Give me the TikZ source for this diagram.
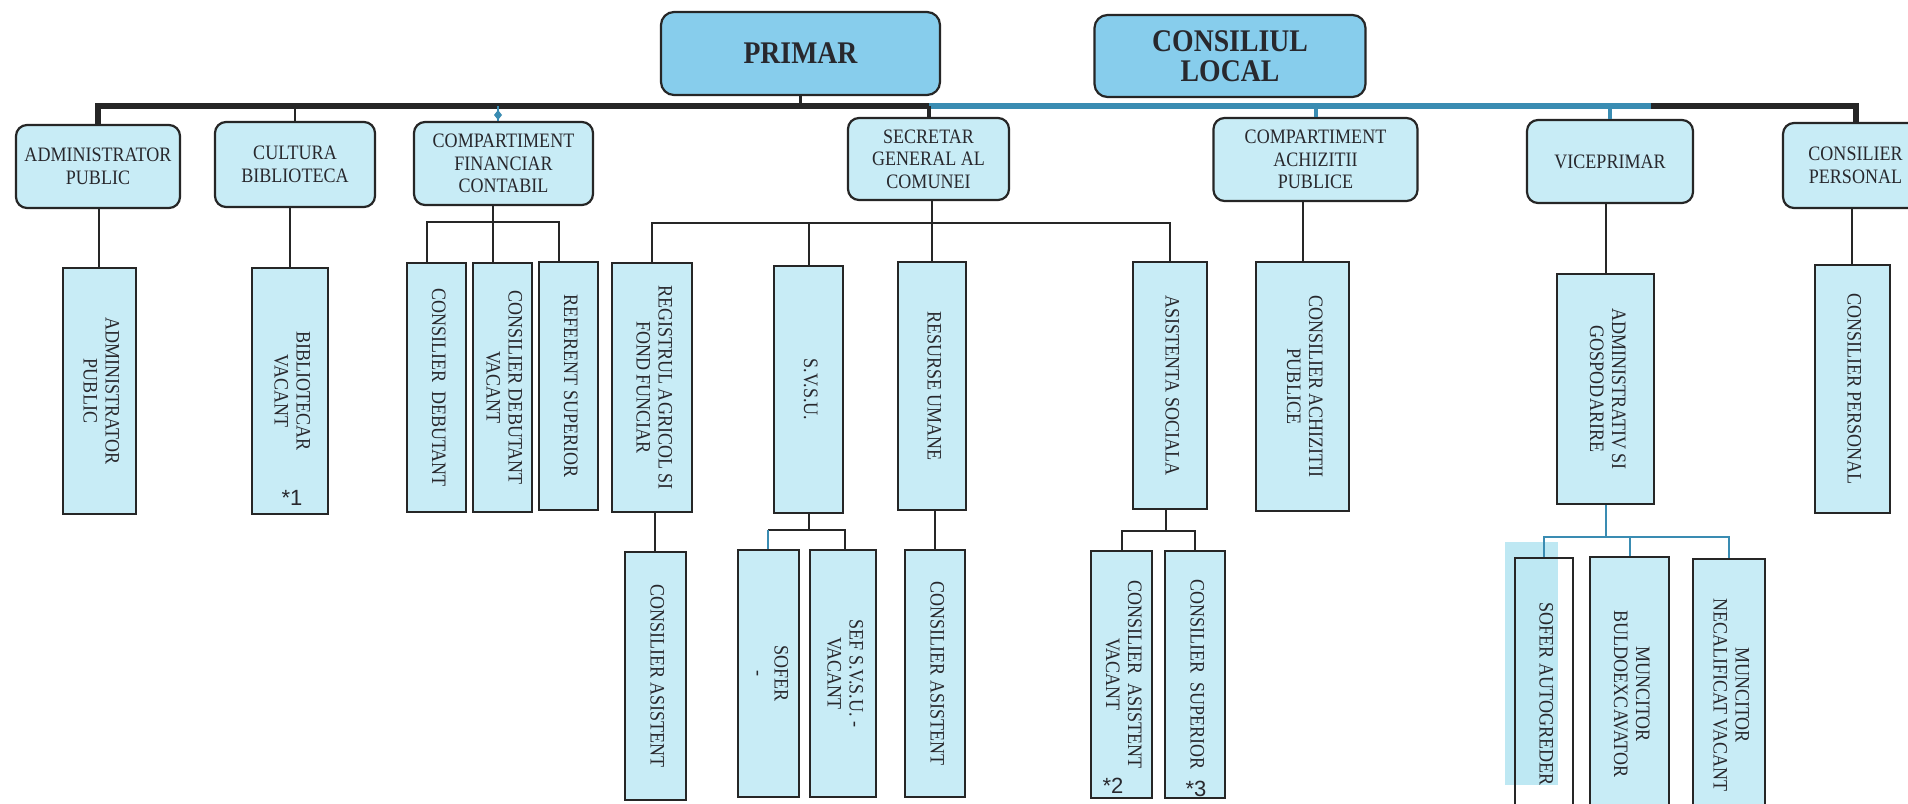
\documentclass[tikz,border=0pt]{standalone}
\usepackage{fontspec}
\usepackage{graphicx}
\setmainfont{Liberation Serif}[FakeStretch=0.88]
\newfontfamily\arialf{Liberation Sans}
\definecolor{topblue}{RGB}{135,205,236}
\definecolor{lightblue}{RGB}{200,236,246}
\definecolor{overblue}{RGB}{190,232,243}
\definecolor{busblue}{RGB}{58,140,178}
\definecolor{linec}{RGB}{38,38,38}
\definecolor{textc}{RGB}{40,40,45}
\newcommand{\vtxt}[1]{\rotatebox{-90}{\begin{tabular}{@{}c@{}}#1\end{tabular}}}
\tikzset{
  topbox/.style={draw=linec, line width=2.2pt, rounded corners=13pt, fill=topblue, inner sep=0pt, align=center, text=textc, font=\bfseries\fontsize{31.5}{30}\selectfont},
  midbox/.style={draw=linec, line width=2.2pt, rounded corners=11pt, fill=lightblue, inner sep=0pt, align=center, text=textc, font=\fontsize{20.5}{22.5}\selectfont},
  tallbox/.style={draw=linec, line width=2pt, fill=lightblue, inner sep=0pt, text=textc, font=\fontsize{20.5}{22}\selectfont},
  conn/.style={draw=linec, line width=2pt},
  connb/.style={draw=busblue, line width=2pt},
  busd/.style={draw=linec, line width=6pt, line join=miter},
  busb/.style={draw=busblue, line width=6pt},
  starlbl/.style={font=\arialf\fontsize{22}{22}\selectfont, text=textc, inner sep=0pt},
}
\begin{document}
\begin{tikzpicture}[x=1pt,y=-1pt]
\useasboundingbox (0,0) rectangle (1908,803);
\clip (0,0) rectangle (1908,803);
\fill[white] (0,0) rectangle (1908,803);

% top level
\node[topbox, minimum width=279pt, minimum height=83pt] (primar) at (800.5,53.5) {PRIMAR};
\node[topbox, minimum width=271pt, minimum height=82pt] (consil) at (1230,56) {CONSILIUL\\LOCAL};

% second row
\node[midbox, minimum width=164pt, minimum height=83pt] (adm) at (98,166.5) {ADMINISTRATOR\\PUBLIC};
\node[midbox, minimum width=160pt, minimum height=85pt] (cult) at (295,164.5) {CULTURA\\BIBLIOTECA};
\node[midbox, minimum width=179pt, minimum height=83pt] (fin) at (503.5,163.5) {COMPARTIMENT\\FINANCIAR\\CONTABIL};
\node[midbox, minimum width=161pt, minimum height=82pt] (sec) at (928.5,159) {SECRETAR\\GENERAL AL\\COMUNEI};
\node[midbox, minimum width=204pt, minimum height=83pt] (achz) at (1315.5,159.5) {COMPARTIMENT\\ACHIZITII\\PUBLICE};
\node[midbox, minimum width=166pt, minimum height=83pt] (vice) at (1610,161.5) {VICEPRIMAR};
\node[midbox, minimum width=145pt, minimum height=85pt] (cpers) at (1855.5,165.5) {CONSILIER\\PERSONAL};

% third row
\node[tallbox, minimum width=73pt, minimum height=246pt] (admp) at (99,391) {\vtxt{ADMINISTRATOR\\PUBLIC}};
\node[tallbox, minimum width=76pt, minimum height=246pt] (bib) at (290,391) {\vtxt{BIBLIOTECAR\\VACANT}};
\node[tallbox, minimum width=59pt, minimum height=249pt] (cdeb) at (436.5,387.5) {\vtxt{CONSILIER\ \ DEBUTANT}};
\node[tallbox, minimum width=59pt, minimum height=249pt] (cdebv) at (502,387.5) {\vtxt{CONSILIER DEBUTANT\\VACANT}};
\node[tallbox, minimum width=59pt, minimum height=248pt] (refs) at (568.5,386) {\vtxt{REFERENT SUPERIOR}};
\node[tallbox, minimum width=80pt, minimum height=249pt] (reg) at (652,387.5) {\vtxt{REGISTRUL AGRICOL SI\\FOND FUNCIAR}};
\node[tallbox, minimum width=69pt, minimum height=247pt] (svsu) at (808.5,389.5) {\vtxt{S.V.S.U.}};
\node[tallbox, minimum width=68pt, minimum height=248pt] (rum) at (932,386) {\vtxt{RESURSE UMANE}};
\node[tallbox, minimum width=74pt, minimum height=247pt] (asis) at (1170,385.5) {\vtxt{ASISTENTA SOCIALA}};
\node[tallbox, minimum width=93pt, minimum height=249pt] (cach) at (1302.5,386.5) {\vtxt{CONSILIER ACHIZITII\\PUBLICE}};
\node[tallbox, minimum width=97pt, minimum height=230pt] (adg) at (1605.5,389) {\vtxt{ADMINISTRATIV SI\\GOSPODARIRE}};
\node[tallbox, minimum width=75pt, minimum height=248pt] (cpl) at (1852,389) {\vtxt{CONSILIER PERSONAL}};

% fourth row
\node[tallbox, minimum width=61pt, minimum height=248pt] (cas1) at (655,676) {\vtxt{CONSILIER ASISTENT}};
\node[tallbox, minimum width=61pt, minimum height=247pt] (sofer) at (768,673.5) {\vtxt{SOFER\\-}};
\node[tallbox, minimum width=66pt, minimum height=247pt] (sef) at (843,673.5) {\vtxt{SEF S.V.S.U. -\\VACANT}};
\node[tallbox, minimum width=60pt, minimum height=247pt] (cas2) at (935,673.5) {\vtxt{CONSILIER ASISTENT}};
\node[tallbox, minimum width=61pt, minimum height=247pt] (casv) at (1121.5,674.5) {\raisebox{16pt}{\vtxt{CONSILIER\ \ ASISTENT\\VACANT}}};
\node[tallbox, minimum width=60pt, minimum height=247pt] (csup) at (1195,674.5) {\vtxt{CONSILIER\ \ SUPERIOR}};

\fill[overblue] (1505,542) rectangle (1558,785);
\node[tallbox, fill=none, minimum width=58pt, minimum height=272pt] (sag) at (1544,694) {\raisebox{31pt}{\vtxt{SOFER AUTOGREDER}}};
\node[tallbox, minimum width=79pt, minimum height=274pt] (mbul) at (1629.5,694) {\raisebox{16pt}{\vtxt{MUNCITOR\\BULDOEXCAVATOR}}};
\node[tallbox, minimum width=72pt, minimum height=272pt] (mnec) at (1729,695) {\raisebox{10pt}{\vtxt{MUNCITOR\\NECALIFICAT VACANT}}};

% footnote marks
\node[starlbl] (s1) at (292,498) {*1};
\node[starlbl] (s2) at (1113,786) {*2};
\node[starlbl] (s3) at (1196,789) {*3};

% bus
\coordinate (busA) at (929,106);
\coordinate (busB) at (1651,106);
\draw[busd] (adm.north) |- (busA);
\draw[busb] (busA) -- (busB);
\draw[busd] (busB) -| (cpers.north);

% connectors top row
\draw[conn, line width=3pt] (primar.south) -- (primar.south |- busA);
\draw[conn] (cult.north) -- (cult.north |- busA);
\draw[connb] ([xshift=-5.5pt]fin.north) -- ([xshift=-5.5pt]fin.north |- busA);
\fill[busblue] (498,110) -- (502,115) -- (498,120) -- (494,115) -- cycle;
\draw[conn, line width=4pt] (sec.north) -- (sec.north |- busA);
\draw[connb, line width=4pt] (achz.north) -- (achz.north |- busA);
\draw[connb, line width=4pt] (vice.north) -- (vice.north |- busA);

% row 2 -> row 3
\draw[conn] (admp.north) -- (admp.north |- adm.south);
\draw[conn] (bib.north) -- (bib.north |- cult.south);
\coordinate (fb) at (493,222);
\draw[conn] (fin.south -| fb) -- (cdebv.north -| fb);
\draw[conn] ([xshift=-10pt]cdeb.north) |- (fb) -| ([xshift=-10pt]refs.north);
\coordinate (sb) at (930,223);
\draw[conn] (rum.north) -- (rum.north |- sec.south);
\draw[conn] (reg.north) |- (sb) -| (asis.north);
\draw[conn] (svsu.north) -- (svsu.north |- sb);
\draw[conn] (cach.north) -- (cach.north |- achz.south);
\draw[conn] (adg.north) -- (adg.north |- vice.south);
\draw[conn] (cpl.north) -- (cpl.north |- cpers.south);

% row 3 -> row 4
\draw[conn] (cas1.north) -- (cas1.north |- reg.south);
\coordinate (vb) at (808.5,530);
\draw[conn] (svsu.south) -- (vb);
\draw[conn] (vb) -| ([xshift=2pt]sef.north);
\draw[conn] (vb) -- (vb -| sofer.north);
\draw[connb] (sofer.north) -- (sofer.north |- vb);
\draw[conn] (cas2.north) -- (cas2.north |- rum.south);
\coordinate (ab) at (1166,531);
\draw[conn] (asis.south -| ab) -- (ab);
\draw[conn] (casv.north) |- (ab) -| (csup.north);
\coordinate (gb) at (1605.5,537);
\draw[connb] (adg.south) -- (gb);
\draw[connb] (sag.north) |- (gb) -| (mnec.north);
\draw[connb] (mbul.north) -- (mbul.north |- gb);
\end{tikzpicture}
\end{document}
